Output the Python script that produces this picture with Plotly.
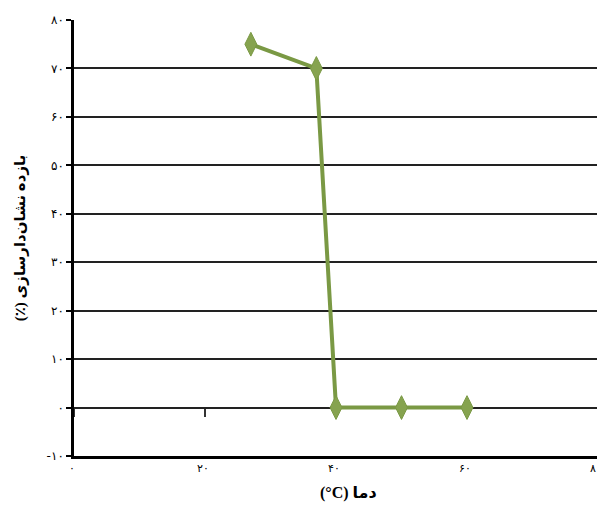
import plotly.graph_objects as go

temps = [27, 37, 40, 50, 60]
yields = [75, 70, 0, 0, 0]

y_ticks = [-10, 0, 10, 20, 30, 40, 50, 60, 70, 80]
y_labels = ["-۱۰", "۰", "۱۰", "۲۰", "۳۰", "۴۰", "۵۰", "۶۰", "۷۰", "۸۰"]
x_ticks = [0, 20, 40, 60, 80]
x_labels = ["۰", "۲۰", "۴۰", "۶۰", "۸۰"]

x_range = [0, 80]
y_range = [-10, 80]

FONT = "DejaVu Sans"
TITLE_FONT = "Liberation Serif, DejaVu Sans"
GREEN_LINE = "#7A9944"
GREEN_MARK = "#86A34F"
RLE, PDF, LRM = "\u202B", "\u202C", "\u200E"

fig = go.Figure()
# invisible trace to activate xaxis2 (zero-line tick marks), drawn first
fig.add_trace(go.Scatter(x=[x_range[0]], y=[y_range[0]], xaxis="x2", mode="markers",
                         marker=dict(opacity=0), showlegend=False, hoverinfo="skip"))
fig.add_trace(go.Scatter(
    x=temps, y=yields, mode="lines+markers",
    line=dict(color=GREEN_LINE, width=4),
    marker=dict(symbol="diamond-tall", size=17, color=GREEN_MARK,
                line=dict(color=GREEN_LINE, width=1)),
    showlegend=False, cliponaxis=False,
))

zero_pos = (0 - y_range[0]) / (y_range[1] - y_range[0])

fig.update_layout(
    width=597, height=501,
    margin=dict(l=66, r=7, t=12, b=53),
    paper_bgcolor="white", plot_bgcolor="white",
    font=dict(family=FONT, color="black"),
    xaxis=dict(
        range=x_range, tickvals=x_ticks, ticktext=x_labels, automargin=False,
        showgrid=False, zeroline=False,
        showline=True, linecolor="black", linewidth=2.5,
        ticks="", tickfont=dict(size=11, family=FONT, color="black"),
        ticklabelshift=-2,
    ),
    xaxis2=dict(
        range=x_range, tickvals=x_ticks, overlaying="x", anchor="free",
        position=zero_pos, showticklabels=False, showgrid=False, zeroline=False,
        showline=False, ticks="outside", ticklen=8, tickwidth=1.5, tickcolor="#333333",
        layer="below traces", automargin=False,
    ),
    yaxis=dict(
        range=y_range, tickvals=y_ticks, ticktext=y_labels, automargin=False,
        showgrid=True, gridcolor="#222222", gridwidth=2, zeroline=False,
        showline=True, linecolor="black", linewidth=2.5,
        ticks="outside", ticklen=5, tickwidth=1.5, tickcolor="black",
        tickfont=dict(size=12, family=FONT, color="black"),
        title=dict(text="<b>" + RLE + "بازده نشان‌دارسازی (٪)" + PDF + "</b>",
                   font=dict(size=15, family=TITLE_FONT), standoff=18),
    ),
    annotations=[dict(
        text="<b>" + RLE + "دما (" + LRM + "°C)" + PDF + "</b>",
        xref="paper", yref="paper", x=0.523, y=0, yanchor="middle",
        yshift=-37, showarrow=False, font=dict(size=16, family=TITLE_FONT, color="black"),
    )],
)

fig.write_html("out.html")
